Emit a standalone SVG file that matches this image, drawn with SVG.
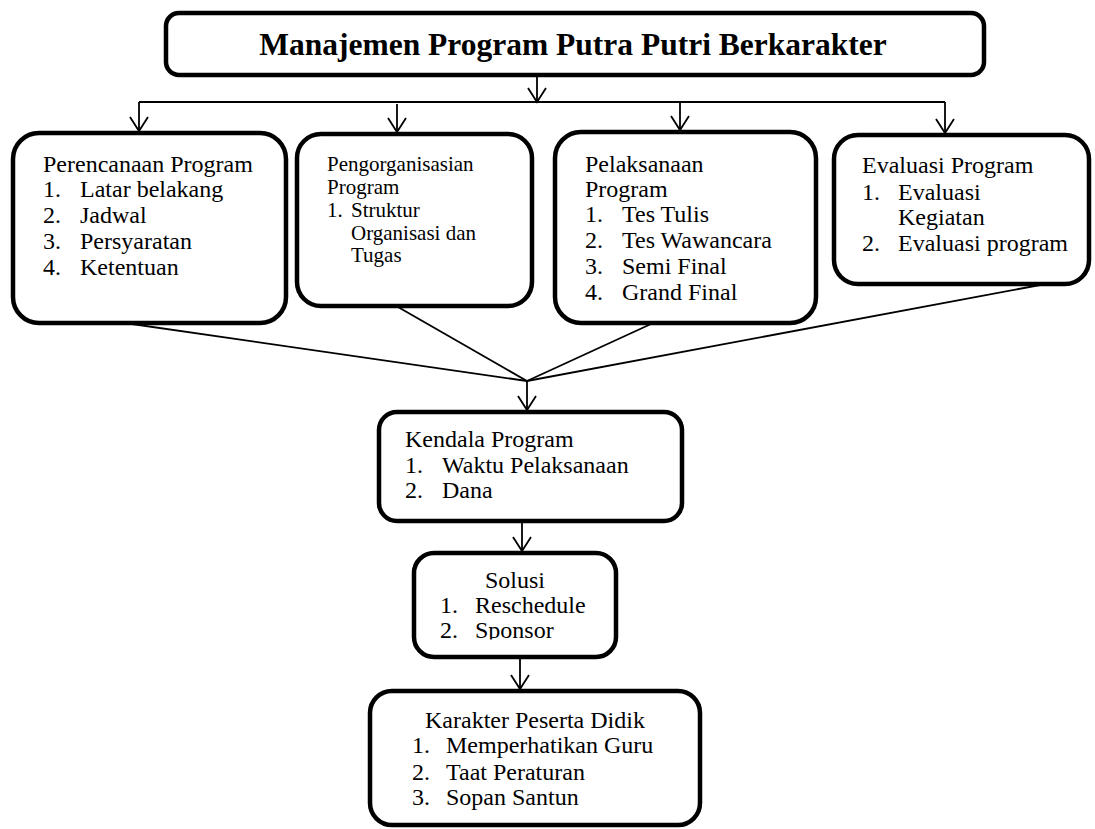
<svg xmlns="http://www.w3.org/2000/svg" width="1095" height="829" viewBox="0 0 1095 829">
  <style>
    .box { fill: #ffffff; stroke: #000000; stroke-width: 4.5; }
    .ln { fill: none; stroke: #000000; stroke-width: 1.8; }
    .t { font-family: "Liberation Serif", "Times New Roman", serif; font-size: 24px; fill: #000000; }
    .s { font-family: "Liberation Serif", "Times New Roman", serif; font-size: 21px; fill: #000000; }
    .title { font-family: "Liberation Serif", "Times New Roman", serif; font-size: 31.5px; font-weight: bold; fill: #000000; }
  </style>
  <defs>
    <marker id="arr" markerUnits="userSpaceOnUse" viewBox="-16 -11 18 22" refX="0" refY="0" markerWidth="18" markerHeight="22" orient="auto">
      <path d="M-14,-9 L0,0 L-14,9" fill="none" stroke="#000000" stroke-width="1.8"/>
    </marker>
    <clipPath id="solclip">
      <rect x="414" y="553" width="202" height="86.5"/>
    </clipPath>
  </defs>

  <rect width="1095" height="829" fill="#ffffff"/>

  <g id="connectors">
    <line class="ln" x1="537" y1="77" x2="537" y2="102" marker-end="url(#arr)"/>
    <line class="ln" x1="139" y1="102" x2="945" y2="102"/>
    <line class="ln" x1="139" y1="102" x2="139" y2="131" marker-end="url(#arr)"/>
    <line class="ln" x1="397" y1="104" x2="397" y2="132" marker-end="url(#arr)"/>
    <line class="ln" x1="680" y1="102" x2="680" y2="130" marker-end="url(#arr)"/>
    <line class="ln" x1="945" y1="102" x2="945" y2="133" marker-end="url(#arr)"/>
    <line class="ln" x1="118" y1="322" x2="527" y2="381"/>
    <line class="ln" x1="398" y1="307" x2="527" y2="381"/>
    <line class="ln" x1="651" y1="324" x2="527" y2="381"/>
    <line class="ln" x1="1040" y1="285" x2="527" y2="381"/>
    <line class="ln" x1="527" y1="381" x2="527" y2="410" marker-end="url(#arr)"/>
    <line class="ln" x1="522" y1="523" x2="522" y2="551" marker-end="url(#arr)"/>
    <line class="ln" x1="520" y1="659" x2="520" y2="689" marker-end="url(#arr)"/>
  </g>

  <g id="title">
    <rect class="box" x="166" y="13" width="818" height="62" rx="13"/>
    <text class="title" x="573" y="55" text-anchor="middle">Manajemen Program Putra Putri Berkarakter</text>
  </g>

  <g id="perencanaan">
    <rect class="box" x="13" y="133" width="273" height="190" rx="26"/>
    <text class="t" x="43" y="172">Perencanaan Program</text>
    <text class="t" x="43" y="197">1.</text><text class="t" x="80" y="197">Latar belakang</text>
    <text class="t" x="43" y="223">2.</text><text class="t" x="80" y="223">Jadwal</text>
    <text class="t" x="43" y="249">3.</text><text class="t" x="80" y="249">Persyaratan</text>
    <text class="t" x="43" y="275">4.</text><text class="t" x="80" y="275">Ketentuan</text>
  </g>

  <g id="pengorganisasian">
    <rect class="box" x="297" y="134" width="235" height="172" rx="24"/>
    <text class="s" x="327" y="171">Pengorganisasian</text>
    <text class="s" x="327" y="194">Program</text>
    <text class="s" x="327" y="217">1.</text><text class="s" x="351" y="217">Struktur</text>
    <text class="s" x="351" y="240">Organisasi dan</text>
    <text class="s" x="351" y="262">Tugas</text>
  </g>

  <g id="pelaksanaan">
    <rect class="box" x="555" y="132" width="261" height="191" rx="26"/>
    <text class="t" x="585" y="172">Pelaksanaan</text>
    <text class="t" x="585" y="197">Program</text>
    <text class="t" x="585" y="222">1.</text><text class="t" x="622" y="222">Tes Tulis</text>
    <text class="t" x="585" y="248">2.</text><text class="t" x="622" y="248">Tes Wawancara</text>
    <text class="t" x="585" y="274">3.</text><text class="t" x="622" y="274">Semi Final</text>
    <text class="t" x="585" y="300">4.</text><text class="t" x="622" y="300">Grand Final</text>
  </g>

  <g id="evaluasi">
    <rect class="box" x="834" y="135" width="255" height="149" rx="24"/>
    <text class="t" x="862" y="173">Evaluasi Program</text>
    <text class="t" x="862" y="200">1.</text><text class="t" x="898" y="200">Evaluasi</text>
    <text class="t" x="898" y="225">Kegiatan</text>
    <text class="t" x="862" y="251">2.</text><text class="t" x="898" y="251">Evaluasi program</text>
  </g>

  <g id="kendala">
    <rect class="box" x="379" y="412" width="303" height="109" rx="18"/>
    <text class="t" x="405" y="447">Kendala Program</text>
    <text class="t" x="405" y="473">1.</text><text class="t" x="442" y="473">Waktu Pelaksanaan</text>
    <text class="t" x="405" y="498">2.</text><text class="t" x="442" y="498">Dana</text>
  </g>

  <g id="solusi">
    <rect class="box" x="414" y="553" width="202" height="104" rx="20"/>
    <text class="t" x="485" y="588">Solusi</text>
    <text class="t" x="440" y="613">1.</text><text class="t" x="475" y="613">Reschedule</text>
    <g clip-path="url(#solclip)">
      <text class="t" x="440" y="638">2.</text><text class="t" x="475" y="638">Sponsor</text>
    </g>
  </g>

  <g id="karakter">
    <rect class="box" x="370" y="691" width="330" height="134" rx="22"/>
    <text class="t" x="425" y="728">Karakter Peserta Didik</text>
    <text class="t" x="412" y="753">1.</text><text class="t" x="446" y="753">Memperhatikan Guru</text>
    <text class="t" x="412" y="780">2.</text><text class="t" x="446" y="780">Taat Peraturan</text>
    <text class="t" x="412" y="805">3.</text><text class="t" x="446" y="805">Sopan Santun</text>
  </g>
</svg>
